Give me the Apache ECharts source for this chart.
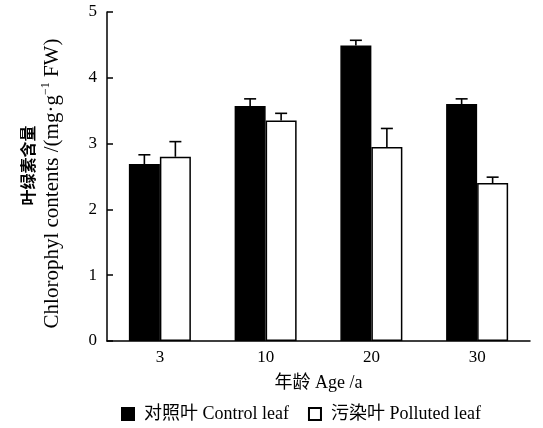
<!DOCTYPE html>
<html>
<head>
<meta charset="utf-8">
<script src="https://cdn.jsdelivr.net/npm/echarts@6/dist/echarts.min.js"></script>
<style>
  html, body { margin: 0; padding: 0; background: #fff; }
  #chart { width: 543px; height: 428px; }
</style>
</head>
<body>
<div id="chart"></div>
<script>
// 年龄分类
var ages = ["3", "10", "20", "30"];
// 对照叶 / 污染叶 平均值
var controlVals = [2.69, 3.57, 4.49, 3.60];
var pollutedVals = [2.80, 3.35, 2.95, 2.40];
// 误差（只向上）
var controlErr = [0.14, 0.11, 0.08, 0.08];
var pollutedErr = [0.23, 0.11, 0.28, 0.09];
var yTicks = [0, 1, 2, 3, 4, 5];

var serif = "'Liberation Serif', 'Times New Roman', serif";
var cjk = "'Liberation Serif', 'Noto Sans CJK SC', serif";
var BAR_W = 31;

function errData(vals, errs) {
  return vals.map(function (v, i) { return [i, v, v + errs[i]]; });
}

function errRender(offset) {
  return function (params, api) {
    var lo = api.coord([api.value(0), api.value(1)]);
    var hi = api.coord([api.value(0), api.value(2)]);
    var x = lo[0] + offset;
    var style = { stroke: "#000", lineWidth: 1.6 };
    return {
      type: "group",
      children: [
        { type: "line", shape: { x1: x, y1: lo[1], x2: x, y2: hi[1] }, style: style },
        { type: "line", shape: { x1: x - 6, y1: hi[1], x2: x + 6, y2: hi[1] }, style: style }
      ]
    };
  };
}

var myChart = echarts.init(document.getElementById("chart"));
var option = {
  animation: false,
  textStyle: { fontFamily: serif, color: "#000" },
  grid: { left: 107, right: 13, top: 12, bottom: 87 },
  legend: {
    bottom: 0,
    left: 116,
    itemWidth: 12,
    itemHeight: 12,
    itemGap: 19,
    textStyle: { fontFamily: cjk, fontSize: 18, color: "#000", padding: [0, 0, 0, 5] },
    data: [
      { name: "对照叶 Control leaf", icon: "rect" },
      { name: "污染叶 Polluted leaf", icon: "rect" }
    ]
  },
  xAxis: {
    type: "category",
    data: ages,
    name: "年龄 Age /a",
    nameLocation: "middle",
    nameGap: 33,
    nameTextStyle: { fontFamily: cjk, fontSize: 18, color: "#000" },
    axisLine: { lineStyle: { color: "#000", width: 1.5 } },
    axisTick: { inside: true, length: 6, lineStyle: { color: "#000", width: 1.5 } },
    axisLabel: { fontSize: 17, color: "#000", margin: 8, fontFamily: serif }
  },
  yAxis: {
    type: "value",
    min: 0,
    max: 5,
    interval: 1,
    name: "{cn|叶绿素含量}\n{en|Chlorophyl contents /(mg·g}{sup|−1}{enEnd| FW)}",
    nameLocation: "middle",
    nameRotate: 90,
    nameGap: 42,
    nameTextStyle: {
      rich: {
        cn: { fontFamily: "'Noto Sans CJK SC', sans-serif", fontSize: 16, fontWeight: "bold", color: "#000", lineHeight: 25, padding: [0, 0, 0, 22] },
        en: { fontFamily: serif, fontSize: 21, color: "#000", lineHeight: 25 },
        enEnd: { fontFamily: serif, fontSize: 21, color: "#000", lineHeight: 25, padding: [0, 14, 0, 0] },
        sup: { fontFamily: serif, fontSize: 12, color: "#000", verticalAlign: "top", lineHeight: 25, padding: [0, 0, 10, 0] }
      }
    },
    axisLine: { show: true, lineStyle: { color: "#000", width: 1.5 } },
    axisTick: { show: true, inside: true, length: 6, lineStyle: { color: "#000", width: 1.5 } },
    axisLabel: { fontSize: 17, color: "#000", margin: 10, fontFamily: serif,
      formatter: function (v) { return yTicks.indexOf(v) >= 0 ? String(v) : ""; } },
    splitLine: { show: false }
  },
  series: [
    {
      name: "对照叶 Control leaf",
      type: "bar",
      barWidth: BAR_W,
      barGap: "0%",
      data: controlVals,
      itemStyle: { color: "#000", borderColor: "#000", borderWidth: 1.5 }
    },
    {
      name: "污染叶 Polluted leaf",
      type: "bar",
      barWidth: BAR_W,
      barGap: "0%",
      data: pollutedVals,
      itemStyle: { color: "#fff", borderColor: "#000", borderWidth: 1.5 }
    },
    {
      type: "custom",
      renderItem: errRender(-BAR_W / 2),
      data: errData(controlVals, controlErr),
      encode: { x: 0, y: [1, 2] },
      z: 3
    },
    {
      type: "custom",
      renderItem: errRender(BAR_W / 2),
      data: errData(pollutedVals, pollutedErr),
      encode: { x: 0, y: [1, 2] },
      z: 3
    }
  ]
};
myChart.setOption(option, true);
window.addEventListener("resize", function () { myChart.resize(); });
</script>
</body>
</html>
